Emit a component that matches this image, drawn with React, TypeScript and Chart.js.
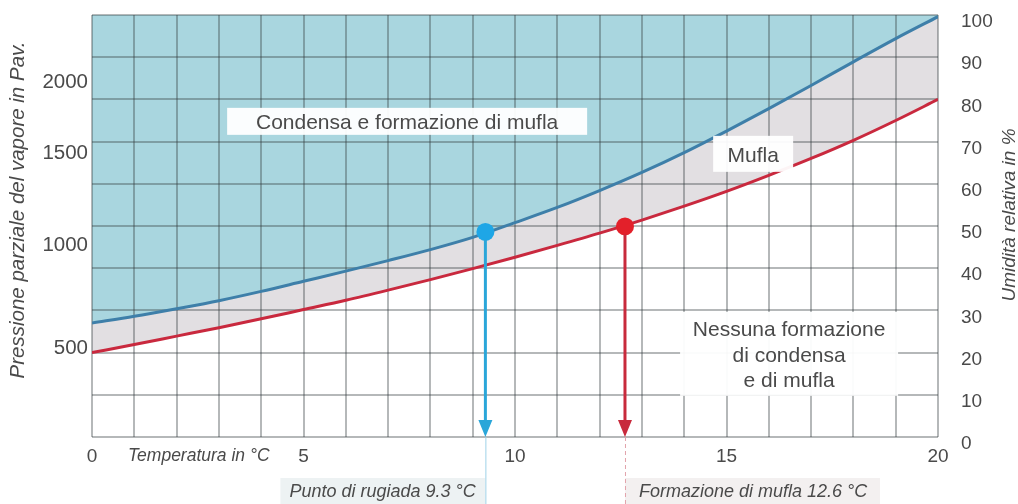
import React, { useEffect, useRef } from 'react';
import { Chart, registerables } from 'chart.js';

Chart.register(...registerables);

// ---- data ----
const temperatures = [0, 1, 2, 3, 4, 5, 6, 7, 8, 9, 10, 11, 12, 13, 14, 15, 16, 17, 18, 19, 20];
// saturation (100 %) curve, on the relative-humidity grid
const saturationLevels = [27.0, 28.6, 30.4, 32.3, 34.5, 36.9, 39.3, 41.8, 44.4, 47.3, 50.8, 54.4, 58.4, 62.7, 67.4, 72.5, 77.8, 83.3, 88.9, 94.4, 99.6];
// mould (80 %) curve
const mouldLevels = [20.0, 21.9, 23.9, 25.9, 28.0, 30.2, 32.4, 34.8, 37.3, 39.9, 42.6, 45.4, 48.3, 51.4, 54.7, 58.2, 62.0, 66.0, 70.3, 75.0, 80.0];

const xLabeledTemps = [0, 5, 10, 15, 20];
const pressureTickLabels = ['500', '1000', '1500', '2000'];
const pressureTickLevels = [21.1, 45.5, 67.1, 84.1];

const markerTemps = [9.3, 12.6];
const markerLevels = [48.6, 49.9];
const markerColors = ['#1ea6e6', '#e3202a'];
const arrowColors = ['#2aa6d9', '#c82a3c'];
const markerCaptions = ['Punto di rugiada 9.3 °C', 'Formazione di mufla 12.6 °C'];

const regionTexts = [
  ['Condensa e formazione di mufla'],
  ['Mufla'],
  ['Nessuna formazione', 'di condensa', 'e di mufla'],
];
const regionTemps = [7.45, 15.63, 16.48];
const regionLevels = [74.8, 67.1, 19.7];
const regionBoxSizes = [[360, 27], [80, 36], [218, 84]];

const FONT = '"Liberation Sans", Arial, sans-serif';
const TEXT = '#4a4a4a';

const zeroPad = (s: any) => {
  s.paddingTop = 0;
  s.paddingBottom = 0;
  s.paddingLeft = 0;
  s.paddingRight = 0;
};

const overlayPlugin = {
  id: 'overlay',
  afterDatasetsDraw(chart: any) {
    const { ctx, scales } = chart;
    const x = scales.x;
    const y = scales.y;
    const base = y.getPixelForValue(0);
    // region labels
    regionTexts.forEach((lines, i) => {
      const cx = x.getPixelForValue(regionTemps[i]);
      const cy = y.getPixelForValue(regionLevels[i]);
      const [w, h] = regionBoxSizes[i];
      ctx.save();
      ctx.fillStyle = 'rgba(255,255,255,0.95)';
      ctx.fillRect(cx - w / 2, cy - h / 2, w, h);
      ctx.fillStyle = TEXT;
      ctx.font = `21px ${FONT}`;
      ctx.textAlign = 'center';
      ctx.textBaseline = 'middle';
      lines.forEach((ln, k) => {
        ctx.fillText(ln, cx, cy + 2 + (k - (lines.length - 1) / 2) * 25.5);
      });
      ctx.restore();
    });
    // arrows
    markerTemps.forEach((t, i) => {
      const px = x.getPixelForValue(t);
      const py = y.getPixelForValue(markerLevels[i]);
      ctx.save();
      ctx.strokeStyle = arrowColors[i];
      ctx.lineWidth = 3;
      ctx.beginPath();
      ctx.moveTo(px, py + 8);
      ctx.lineTo(px, base - 14);
      ctx.stroke();
      ctx.fillStyle = arrowColors[i];
      ctx.beginPath();
      ctx.moveTo(px - 7, base - 17);
      ctx.lineTo(px + 7, base - 17);
      ctx.lineTo(px, base);
      ctx.closePath();
      ctx.fill();
      ctx.restore();
    });
  },
  afterDraw(chart: any) {
    const { ctx, scales, chartArea } = chart;
    const x = scales.x;
    const base = chartArea.bottom;
    // caption boxes below the axis
    markerTemps.forEach((t, i) => {
      const px = x.getPixelForValue(t);
      ctx.save();
      const w = i === 0 ? 205 : 255;
      const left = i === 0 ? px - w : px;
      ctx.fillStyle = i === 0 ? '#edf2f3' : '#f3f0f0';
      ctx.fillRect(left, base + 41, w, 30);
      ctx.strokeStyle = i === 0 ? '#9fd3e8' : '#e2a3ab';
      ctx.lineWidth = 1;
      if (i === 1) ctx.setLineDash([4, 3]);
      ctx.beginPath();
      ctx.moveTo(px + 0.5, base);
      ctx.lineTo(px + 0.5, base + 70);
      ctx.stroke();
      ctx.setLineDash([]);
      ctx.fillStyle = TEXT;
      ctx.font = `italic 18px ${FONT}`;
      ctx.textAlign = 'left';
      ctx.textBaseline = 'middle';
      ctx.fillText(markerCaptions[i], left + (i === 0 ? 9 : 14), base + 55);
      ctx.restore();
    });
    ctx.save();
    ctx.fillStyle = TEXT;
    ctx.textBaseline = 'middle';
    ctx.textAlign = 'left';
    ctx.font = `italic 17.5px ${FONT}`;
    ctx.fillText('Temperatura in °C', chartArea.left + 36, base + 19);
    // left title
    ctx.save();
    ctx.translate(18, 210);
    ctx.rotate(-Math.PI / 2);
    ctx.textAlign = 'center';
    ctx.font = `italic 20.5px ${FONT}`;
    ctx.fillText('Pressione parziale del vapore in Pav.', 0, 0);
    ctx.restore();
    // right title
    ctx.save();
    ctx.translate(1010, 215);
    ctx.rotate(-Math.PI / 2);
    ctx.textAlign = 'center';
    ctx.font = `italic 19px ${FONT}`;
    ctx.fillText('Umidità relativa in %', 0, 0);
    ctx.restore();
    ctx.restore();
  },
};

export default function App() {
  const canvasRef = useRef<HTMLCanvasElement | null>(null);

  useEffect(() => {
    document.body.style.margin = '0';
    const canvas = canvasRef.current;
    if (!canvas) return;
    const gridColor = 'rgba(50,58,60,0.36)';
    const tickFont = { family: FONT, size: 19 };
    const saturationPoints = temperatures.map((t, i) => ({ x: t, y: saturationLevels[i] }));
    const mouldPoints = temperatures.map((t, i) => ({ x: t, y: mouldLevels[i] }));
    const chart = new Chart(canvas, {
      type: 'line',
      data: {
        datasets: [
          {
            label: 'Saturazione',
            data: saturationPoints,
            borderColor: '#3e7fa9',
            borderWidth: 3,
            backgroundColor: '#a9d6df',
            fill: 'end',
            pointRadius: 0,
            cubicInterpolationMode: 'monotone',
            order: 2,
          },
          {
            label: 'Mufla',
            data: mouldPoints,
            borderColor: '#c9293e',
            borderWidth: 3,
            backgroundColor: '#ffffff',
            fill: 'start',
            pointRadius: 0,
            cubicInterpolationMode: 'monotone',
            order: 3,
          },
          {
            label: 'Zona mufla',
            data: saturationPoints,
            borderWidth: 0,
            borderColor: 'rgba(0,0,0,0)',
            backgroundColor: '#e2dfe2',
            fill: 'start',
            pointRadius: 0,
            cubicInterpolationMode: 'monotone',
            order: 4,
          },
          {
            label: 'Punti',
            data: markerTemps.map((t, i) => ({ x: t, y: markerLevels[i] })),
            showLine: false,
            fill: false,
            pointRadius: 9,
            pointBorderWidth: 0,
            pointBackgroundColor: markerColors,
            backgroundColor: markerColors,
            order: 0,
          },
        ],
      },
      options: {
        animation: false,
        responsive: false,
        layout: { padding: { top: 15, left: 0, right: 0, bottom: 0 } },
        plugins: {
          legend: { display: false },
          tooltip: { enabled: false },
          filler: { drawTime: 'beforeDraw' },
        },
        scales: {
          x: {
            type: 'linear',
            min: 0,
            max: 20,
            afterFit: (s: any) => { s.height = 67; zeroPad(s); },
            grid: { color: gridColor, lineWidth: 2, drawTicks: false },
            border: { display: false },
            ticks: {
              stepSize: 1,
              autoSkip: false,
              maxRotation: 0,
              padding: 8,
              color: TEXT,
              font: tickFont,
              callback: (v: any) => (xLabeledTemps.includes(Number(v)) ? String(v) : ''),
            },
          },
          y: {
            type: 'linear',
            position: 'left',
            min: 0,
            max: 100,
            afterFit: (s: any) => { s.width = 92; zeroPad(s); },
            afterBuildTicks: (s: any) => { s.ticks = pressureTickLevels.map((v) => ({ value: v })); },
            grid: { display: false, drawTicks: false },
            border: { display: false },
            ticks: {
              padding: 4,
              color: TEXT,
              font: { family: FONT, size: 20.5 },
              callback: (_v: any, idx: number) => pressureTickLabels[idx],
            },
          },
          y1: {
            type: 'linear',
            position: 'right',
            min: 0,
            max: 100,
            afterFit: (s: any) => { s.width = 80; zeroPad(s); },
            grid: { color: gridColor, lineWidth: 2, drawTicks: false },
            border: { display: false },
            ticks: {
              stepSize: 10,
              padding: 23,
              labelOffset: 7,
              color: TEXT,
              font: tickFont,
            },
          },
        },
      } as any,
      plugins: [overlayPlugin],
    });
    return () => chart.destroy();
  }, []);

  return (
    <div style={{ width: 1018, height: 504 }}>
      <canvas ref={canvasRef} width={1018} height={504} />
    </div>
  );
}
